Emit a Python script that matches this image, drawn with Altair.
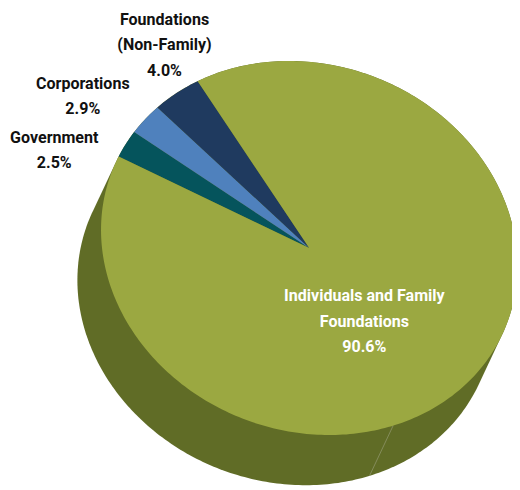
import math
import altair as alt

# --- data ---
categories = ["Government", "Corporations", "Foundations (Non-Family)", "Individuals and Family Foundations"]
shares = [2.5, 2.9, 4.0, 90.6]
label_lines = ["Government\n2.5%", "Corporations\n2.9%", "Foundations\n(Non-Family)\n4.0%",
               "Individuals and Family\nFoundations\n90.6%"]
colors = ["#05545C", "#4F81BD", "#1F3A5F", "#9BA841"]
label_colors = ["#111111", "#111111", "#111111", "#FFFFFF"]

# --- pie drawing geometry (tilted disc seen in perspective) ---
PAGE = 8
CX, CY = 314 - PAGE, 248 - PAGE
A, B = 215.0, 186.0
TILT = math.radians(21)
DEPTH = (-24.0, 51.0)
START = 185.4
SEAM_SHARE = 52.6
W, H = 512, 482


def pt(deg, off=(0.0, 0.0)):
    t = math.radians(deg)
    u, v = A * math.cos(t), B * math.sin(t)
    return [CX + u * math.cos(TILT) - v * math.sin(TILT) + off[0],
            CY + u * math.sin(TILT) + v * math.cos(TILT) + off[1]]


def hull(points):
    p = sorted(map(tuple, points))
    def half(seq):
        out = []
        for q in seq:
            while len(out) > 1 and ((out[-1][0] - out[-2][0]) * (q[1] - out[-2][1])
                                    - (out[-1][1] - out[-2][1]) * (q[0] - out[-2][0])) <= 0:
                out.pop()
            out.append(q)
        return out[:-1]
    return [list(q) for q in half(p) + half(p[::-1])]


features = []
a0 = START
for cat, s in zip(categories, shares):
    a1 = a0 + s * 3.6
    n = max(2, int(s * 3.6))
    ring = [[CX, CY]] + [pt(a0 + (a1 - a0) * i / n) for i in range(n + 1)] + [[CX, CY]]
    features.append({"type": "Feature", "properties": {"name": cat},
                     "geometry": {"type": "Polygon", "coordinates": [ring]}})
    a0 = a1

rim = [pt(d) for d in range(0, 360)] + [pt(d, DEPTH) for d in range(0, 360)]
h = hull(rim)
side = [{"type": "Feature", "properties": {"name": "side"},
         "geometry": {"type": "Polygon", "coordinates": [h + [h[0]]]}}]

seam_a = 218.5 + SEAM_SHARE * 3.6
seam = [{"type": "Feature", "properties": {"name": "seam"},
         "geometry": {"type": "LineString", "coordinates": [pt(seam_a), pt(seam_a, DEPTH)]}}]

proj = dict(type="identity", scale=1, translate=[0, 0])

side_layer = alt.Chart(alt.Data(values=side)).mark_geoshape(
    fill="#606C26", strokeWidth=0).project(**proj)
seam_layer = alt.Chart(alt.Data(values=seam)).mark_geoshape(
    filled=False, stroke="#8E9468", strokeWidth=0.8).project(**proj)
top_layer = alt.Chart(alt.Data(values=features)).mark_geoshape(strokeWidth=0).encode(
    fill=alt.Fill("properties.name:N",
                  scale=alt.Scale(domain=categories, range=colors), legend=None)
).project(**proj)

anchors = [(55, 141), (84, 86), (167, 21), (370, 302)]
texts = []
for line, col, (x, y) in zip(label_lines, label_colors, anchors):
    texts.append(
        alt.Chart(alt.Data(values=[{"t": line}])).mark_text(
            font="Roboto", fontWeight="bold", fontSize=16.3,
            lineBreak="\n", lineHeight=26, align="center", baseline="alphabetic",
            color=col
        ).encode(text="t:N", x=alt.value(x - PAGE), y=alt.value(y - PAGE))
    )

chart = alt.layer(side_layer, seam_layer, top_layer, *texts).properties(
    width=W, height=H, padding=0, autosize=alt.AutoSizeParams(type="none"),
    background="white"
).configure_view(stroke=None)

chart.save("out.html", embed_options={"renderer": "svg", "actions": False})
